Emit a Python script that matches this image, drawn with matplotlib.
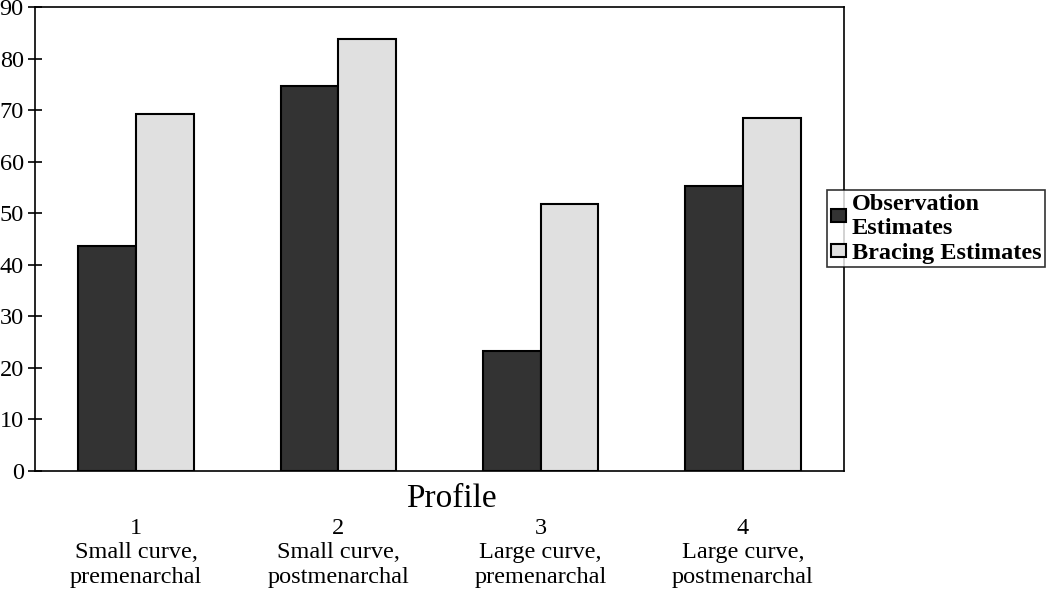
import numpy as np
import matplotlib
matplotlib.use("Agg")
import matplotlib.pyplot as plt

# values
profiles = ["1\nSmall curve,\npremenarchal", "2\nSmall curve,\npostmenarchal",
            "3\nLarge curve,\npremenarchal", "4\nLarge curve,\npostmenarchal"]
observation = [43.7, 74.6, 23.3, 55.2]
bracing = [69.3, 83.7, 51.7, 68.4]
series_names = ["Observation\nEstimates", "Bracing Estimates"]
yticks = list(range(0, 100, 10))


def main():
    plt.rcParams['font.family'] = ['Liberation Serif', 'DejaVu Serif']

    fig = plt.figure(figsize=(10.5, 5.9), dpi=100)
    ax = fig.add_axes([0.0333, 0.2017, 0.7705, 0.7865])

    x = np.arange(len(profiles))
    w = 0.285
    ax.bar(x - w / 2, observation, w, color='#333333', edgecolor='black',
           linewidth=1.5, label=series_names[0])
    ax.bar(x + w / 2, bracing, w, color='#e0e0e0', edgecolor='black',
           linewidth=1.5, label=series_names[1])

    ax.set_xlim(-0.5, len(profiles) - 0.5)
    ax.set_ylim(0, 90)
    ax.set_yticks(yticks)
    ax.tick_params(axis='y', direction='inout', length=10, width=1.2,
                   labelsize=17.5, pad=3)
    ax.set_xticks(x)
    ax.set_xticklabels(profiles, fontsize=17.5, linespacing=1.2)
    ax.tick_params(axis='x', length=0, pad=34)
    for s in ax.spines.values():
        s.set_linewidth(1.2)

    ax.text(0.515, -0.06, "Profile", transform=ax.transAxes, ha='center',
            va='center', fontsize=24)

    leg = fig.legend(loc='center left', bbox_to_anchor=(0.788, 0.612),
                     frameon=True, fancybox=False, edgecolor='black',
                     prop={'weight': 'bold', 'size': 17.5},
                     handlelength=0.6, handleheight=0.45, handletextpad=0.25,
                     borderpad=0.15, labelspacing=0.15, borderaxespad=0)
    leg.get_frame().set_linewidth(1.2)

    fig.savefig("out.png", dpi=100)


if __name__ == "__main__":
    main()
